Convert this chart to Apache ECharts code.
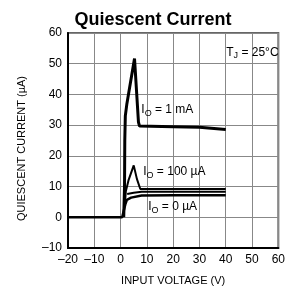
<!DOCTYPE html>
<html>
<head>
<meta charset="utf-8">
<script src="https://cdn.jsdelivr.net/npm/echarts@6/dist/echarts.min.js"></script>
<style>
  html, body { margin: 0; padding: 0; background: #fff; }
  #chart { width: 288px; height: 302px; }
</style>
</head>
<body>
<div id="chart"></div>
<script>
// values (V in volts, I in µA)
const ioZeroV = [-20, 0.6, 1.2, 1.8, 2.4, 4, 8, 20, 40];
const ioZeroI = [0, 0, 0.6, 4.2, 5.7, 6.4, 7.1, 7.2, 7.2];

const io100V = [1.7, 2.0, 3.0, 5.0, 6.2, 7.5, 20, 40];
const io100I = [5, 8.5, 12, 16.9, 12.5, 9.2, 9.2, 9.2];

const io100LowV = [2.5, 5, 8, 20, 40];
const io100LowI = [7.6, 8.0, 8.3, 8.3, 8.3];

const io1mV = [1.2, 1.5, 1.6, 1.8, 2.4, 5.3, 6.8, 7.2, 20, 30, 40];
const io1mI = [0, 10, 25, 33, 37, 51.7, 31, 29.7, 29.5, 29.3, 28.6];

const xTicks = [-20, -10, 0, 10, 20, 30, 40, 50, 60];
const yTicks = [-10, 0, 10, 20, 30, 40, 50, 60];

const font = "Liberation Sans, Arial, sans-serif";

function pairs(xs, ys) {
  return xs.map((x, i) => [x, ys[i]]);
}
function minus(v) {
  return String(v).replace("-", "\u2013");
}

const chart = echarts.init(document.getElementById("chart"));

const option = {
  animation: false,
  title: {
    text: "Quiescent Current",
    left: 148,
    top: 6,
    textAlign: "center",
    textStyle: { fontFamily: font, fontSize: 18, fontWeight: "bold", color: "#000" },
  },
  grid: {
    left: 68,
    right: 5,
    top: 33,
    bottom: 54,
    show: true,
    borderColor: "#666",
    borderWidth: 2,
  },
  xAxis: {
    type: "value",
    min: xTicks[0],
    max: xTicks[xTicks.length - 1],
    interval: 10,
    name: "INPUT VOLTAGE (V)",
    nameLocation: "middle",
    nameGap: 27,
    nameTextStyle: { fontFamily: font, fontSize: 11, color: "#000" },
    axisLine: { onZero: false, lineStyle: { color: "#000", width: 2 } },
    axisTick: { show: false },
    axisLabel: { margin: 6, fontFamily: font, fontSize: 12, color: "#000", formatter: minus },
    splitLine: { lineStyle: { color: "#888", width: 1 } },
  },
  yAxis: {
    type: "value",
    min: yTicks[0],
    max: yTicks[yTicks.length - 1],
    interval: 10,
    name: "QUIESCENT CURRENT (\u00b5A)",
    nameLocation: "middle",
    nameGap: 41,
    nameTextStyle: { fontFamily: font, fontSize: 11, color: "#000", padding: [0, 16, 0, 0] },
    axisLine: { onZero: false, lineStyle: { color: "#000", width: 2 } },
    axisTick: { show: false },
    axisLabel: { margin: 6, fontFamily: font, fontSize: 12, color: "#000", formatter: minus },
    splitLine: { lineStyle: { color: "#888", width: 1 } },
  },
  series: [
    {
      name: "IO = 0 µA",
      type: "line",
      data: pairs(ioZeroV, ioZeroI),
      showSymbol: false,
      lineStyle: { color: "#000", width: 2.5 },
    },
    {
      name: "IO = 100 µA",
      type: "line",
      data: pairs(io100V, io100I),
      showSymbol: false,
      lineStyle: { color: "#000", width: 2 },
    },
    {
      name: "IO = 100 µA (low)",
      type: "line",
      data: pairs(io100LowV, io100LowI),
      showSymbol: false,
      lineStyle: { color: "#000", width: 2 },
    },
    {
      name: "IO = 1 mA",
      type: "line",
      data: pairs(io1mV, io1mI),
      showSymbol: false,
      lineStyle: { color: "#000", width: 3 },
    },
  ],
};

chart.setOption(option);

// annotation anchors (left, vertical middle) in data space
const notes = [
  { at: [40.2, 53.7], main: "T", sub: "J", rest: " = 25\u00b0C" },
  { at: [7.9, 34.9], main: "I", sub: "O", rest: " = 1 mA" },
  { at: [8.6, 14.7], main: "I", sub: "O", rest: " = 100 \u00b5A" },
  { at: [10.5, 3.3], main: "I", sub: "O", rest: " = 0 \u00b5A" },
];

const graphic = notes.map((n) => {
  const p = chart.convertToPixel({ gridIndex: 0 }, n.at);
  return {
    type: "text",
    x: p[0],
    y: p[1],
    style: {
      text: "{m|" + n.main + "}{s|" + n.sub + "}{m|" + n.rest + "}",
      verticalAlign: "middle",
      rich: {
        m: { fontFamily: font, fontSize: 12, fill: "#000", lineHeight: 14 },
        s: { fontFamily: font, fontSize: 9, fill: "#000", padding: [6, 0, 0, 0], lineHeight: 14 },
      },
    },
    z: 10,
  };
});

chart.setOption({ graphic: graphic });
</script>
</body>
</html>
